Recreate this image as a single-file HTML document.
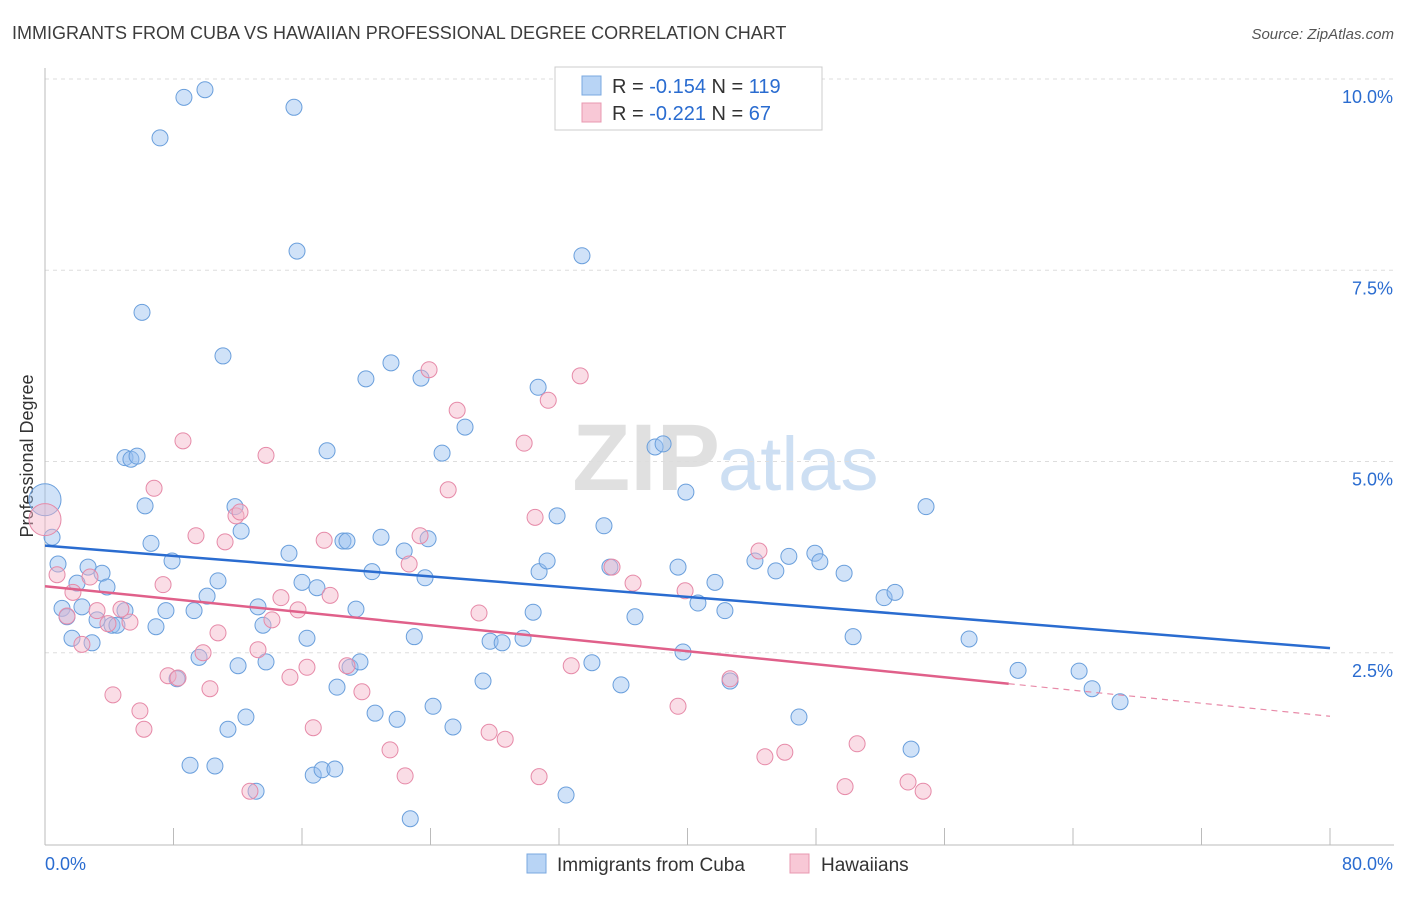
<!DOCTYPE html>
<html><head><meta charset="utf-8"><style>
body{margin:0;background:#fff;font-family:"Liberation Sans",sans-serif;}
svg text{font-family:"Liberation Sans",sans-serif;}
</style></head><body>
<svg id="chart" width="1406" height="892" xmlns="http://www.w3.org/2000/svg">
<text x="12" y="39" font-size="18" fill="#3c3c3c">IMMIGRANTS FROM CUBA VS HAWAIIAN PROFESSIONAL DEGREE CORRELATION CHART</text>
<text x="1394" y="39" font-size="15" fill="#555" text-anchor="end" font-style="italic">Source: ZipAtlas.com</text>
<text x="720" y="490" font-size="95" fill="#d9d9d9" text-anchor="end" font-family="Liberation Serif" font-weight="bold" opacity="0.8">ZIP</text>
<text x="718" y="490" font-size="76" fill="#b9d2ee" opacity="0.7">atlas</text>
<text transform="translate(33,456) rotate(-90)" font-size="18" fill="#333" text-anchor="middle">Professional Degree</text>
<g id="grid"></g><g id="pts"></g><g id="trend"></g>
<g>
<rect x="555" y="67" width="267" height="63" fill="#fff" stroke="#ccc"/>
<rect x="582" y="76" width="19" height="19" fill="#b8d4f5" stroke="#7aa8e0"/>
<rect x="582" y="103" width="19" height="19" fill="#f8c8d6" stroke="#e898b0"/>
<text x="612" y="93" font-size="20" fill="#333">R = <tspan fill="#2a6cd0">-0.154</tspan>   N = <tspan fill="#2a6cd0">119</tspan></text>
<text x="612" y="120" font-size="20" fill="#333">R = <tspan fill="#2a6cd0">-0.221</tspan>   N = <tspan fill="#2a6cd0">  67</tspan></text>
</g>
<g>
<rect x="527" y="854" width="19" height="19" fill="#b8d4f5" stroke="#7aa8e0"/>
<text x="557" y="871" font-size="19" fill="#333">Immigrants from Cuba</text>
<rect x="790" y="854" width="19" height="19" fill="#f8c8d6" stroke="#e898b0"/>
<text x="821" y="871" font-size="19" fill="#333">Hawaiians</text>
</g>
</svg>
<script>
const blueX=[0,0.44,0.81,1.06,1.37,1.68,1.99,2.30,2.68,2.93,3.24,3.55,3.86,4.17,4.48,4.98,4.98,5.35,5.73,6.04,6.23,6.60,6.91,7.16,7.53,7.91,8.22,8.65,9.03,9.28,9.59,9.96,10.09,10.58,10.77,11.08,11.39,11.83,12.02,12.21,12.51,13.14,13.26,13.57,13.76,15.19,15.50,15.69,16.00,16.31,16.70,16.93,17.25,17.56,18.05,18.18,18.55,18.80,18.99,19.36,19.61,19.98,20.36,20.55,20.92,21.54,21.92,22.36,22.74,22.99,23.41,23.66,23.85,24.16,24.72,25.40,26.15,27.27,27.71,28.46,29.76,30.39,30.76,30.70,31.26,31.88,32.44,33.43,34.05,34.80,35.17,35.86,36.73,37.98,38.48,39.41,39.72,39.90,40.65,41.71,42.33,42.65,44.20,45.50,46.31,46.94,47.93,48.24,49.75,50.31,52.24,52.92,53.92,54.85,57.53,60.58,64.38,65.19,66.93];
const blueY=[4.50,4.01,3.66,3.08,2.97,2.69,3.41,3.10,3.62,2.63,2.93,3.54,3.36,2.86,2.86,5.05,3.05,5.03,5.07,6.95,4.42,3.93,2.84,9.23,3.05,3.70,2.16,9.76,1.03,3.05,2.44,9.86,3.24,1.02,3.44,6.38,1.50,4.41,2.33,4.09,1.66,0.69,3.10,2.86,2.38,3.80,9.63,7.75,3.42,2.69,0.90,3.35,0.97,5.14,0.98,2.05,3.96,3.96,2.31,3.07,2.38,6.08,3.56,1.71,4.01,6.29,1.63,3.83,0.33,2.71,6.09,3.48,3.99,1.80,5.11,1.53,5.45,2.13,2.65,2.63,2.69,3.03,3.56,5.97,3.70,4.29,0.64,7.69,2.37,4.16,3.62,2.08,2.97,5.19,5.23,3.62,2.51,4.60,3.15,3.42,3.05,2.13,3.70,3.57,3.76,1.66,3.80,3.69,3.54,2.71,3.22,3.29,1.24,4.41,2.68,2.27,2.26,2.03,1.86];
const pinkX=[0,0.75,1.37,1.74,2.30,2.80,3.24,3.92,4.23,4.73,5.29,5.91,6.16,6.79,7.35,7.66,8.28,8.59,9.40,9.84,10.27,10.77,11.21,11.89,12.14,12.76,13.26,13.76,14.13,14.69,15.25,15.75,16.31,16.70,17.38,17.75,18.80,19.73,21.48,22.42,22.67,23.35,23.91,25.10,25.66,27.02,27.65,28.65,29.83,30.51,30.76,31.33,32.76,33.32,35.30,36.61,39.41,39.85,42.65,44.45,44.82,46.06,49.81,50.56,53.73,54.67];
const pinkY=[4.24,3.52,2.98,3.29,2.61,3.49,3.05,2.88,1.95,3.07,2.90,1.74,1.50,4.65,3.39,2.20,2.17,5.27,4.03,2.50,2.03,2.76,3.95,4.29,4.34,0.69,2.54,5.08,2.93,3.22,2.18,3.06,2.31,1.52,3.97,3.25,2.33,1.99,1.23,0.89,3.66,4.03,6.20,4.63,5.67,3.02,1.46,1.37,5.24,4.27,0.88,5.80,2.33,6.12,3.62,3.41,1.80,3.31,2.16,3.83,1.14,1.20,0.75,1.31,0.81,0.69];
const yTicks=[2.5,5.0,7.5,10.0];
const xTickVals=[0,8,16,24,32,40,48,56,64,72,80];
const blueTrend=[3.90,2.56];
const pinkTrend=[3.37,1.67];
const pinkSolidEnd=60;
const NS="http://www.w3.org/2000/svg";
const xs=v=>45+v/80*1285;
const ys=v=>844-v*76.5;
function mk(tag,attrs,parent){const e=document.createElementNS(NS,tag);for(const k in attrs)e.setAttribute(k,attrs[k]);parent.appendChild(e);return e;}
const grid=document.getElementById('grid');
yTicks.forEach(t=>{
 const l=mk('line',{x1:45,x2:1394,y1:ys(t),y2:ys(t),stroke:'#ddd','stroke-dasharray':'4,4'},grid);
 
 
 const tx=mk('text',{x:1393,y:ys(t)+24,'font-size':18,fill:'#2a6cd0','text-anchor':'end'},grid);
 tx.textContent=t.toFixed(1)+'%';
 
 
});
const ax=mk('line',{x1:45,x2:45,y1:68,y2:845,stroke:'#bbb'},grid);


const bx=mk('line',{x1:45,x2:1394,y1:845,y2:845,stroke:'#bbb'},grid);


xTickVals.forEach(t=>{
 const l=mk('line',{x1:xs(t),x2:xs(t),y1:828,y2:845,stroke:'#bbb'},grid);
 
 
});
const xl0=mk('text',{x:45,y:870,'font-size':18,fill:'#2a6cd0'},grid);xl0.textContent='0.0%';


const xl1=mk('text',{x:1393,y:870,'font-size':18,fill:'#2a6cd0','text-anchor':'end'},grid);xl1.textContent='80.0%';


const pts=document.getElementById('pts');
blueX.forEach((x,i)=>{
 const c=mk('circle',{cx:xs(x),cy:ys(blueY[i]),r:i===0?16:8,fill:'rgba(150,190,240,0.45)',stroke:'#6a9fdc','stroke-width':1},pts);
 
 
});
pinkX.forEach((x,i)=>{
 const c=mk('circle',{cx:xs(x),cy:ys(pinkY[i]),r:i===0?16:8,fill:'rgba(245,180,200,0.45)',stroke:'#e68aa8','stroke-width':1},pts);
 
 
});
const tr=document.getElementById('trend');
const bl=mk('line',{x1:xs(0),y1:ys(blueTrend[0]),x2:xs(80),y2:ys(blueTrend[1]),stroke:'#2a6cd0','stroke-width':2.5},tr);


const pAt=x=>pinkTrend[0]+(pinkTrend[1]-pinkTrend[0])*x/80;
const pl=mk('line',{x1:xs(0),y1:ys(pinkTrend[0]),x2:xs(pinkSolidEnd),y2:ys(pAt(pinkSolidEnd)),stroke:'#e0608a','stroke-width':2.5},tr);


const pd=mk('line',{x1:xs(pinkSolidEnd),y1:ys(pAt(pinkSolidEnd)),x2:xs(80),y2:ys(pinkTrend[1]),stroke:'#e88aa8','stroke-width':1.2,'stroke-dasharray':'6,5'},tr);


</script>
</body></html>
